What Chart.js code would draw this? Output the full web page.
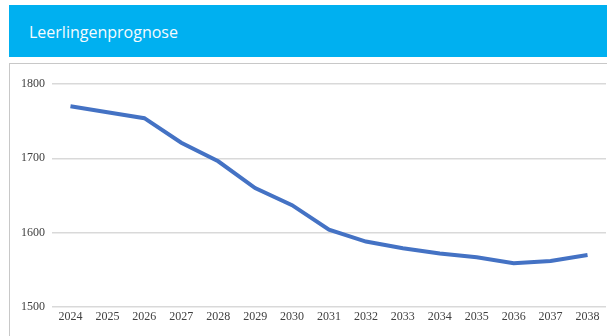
<!DOCTYPE html>
<html>
<head>
<meta charset="utf-8">
<script src="https://cdn.jsdelivr.net/npm/chart.js@4"></script>
<style>
  html, body { margin: 0; padding: 0; background: #ffffff; width: 607px; height: 336px; overflow: hidden; }
  #header {
    position: absolute; left: 9px; top: 5px; width: 598px; height: 52px;
    background: #00b0f0; color: #f4fbfe;
    font-family: "Open Sans", sans-serif; font-size: 16px;
    line-height: 54px; padding-left: 20px; box-sizing: border-box;
  }
  #frame {
    position: absolute; left: 9px; top: 63px; width: 620px; height: 300px;
    border: 1px solid #c8c8c8; box-sizing: border-box;
  }
  #wrap { position: absolute; left: 0; top: 0; width: 607px; height: 336px; }
</style>
</head>
<body>
<div id="frame"></div>
<div id="wrap"><canvas id="chart"></canvas></div>
<div id="header">Leerlingenprognose</div>
<script>
// Projected number of pupils per school year
const years = ['2024','2025','2026','2027','2028','2029','2030','2031','2032','2033','2034','2035','2036','2037','2038'];
const pupils = [1770, 1762, 1754, 1721, 1696, 1660, 1637, 1604, 1588, 1579, 1572, 1567, 1559, 1562, 1570];
const yTicks = [1500, 1600, 1700, 1800];

const tickFont = { family: '"Liberation Serif", "Times New Roman", serif', size: 12 };

new Chart(document.getElementById('chart'), {
  type: 'line',
  data: {
    labels: years,
    datasets: [{
      data: pupils,
      borderColor: '#4472c4',
      borderWidth: 4,
      tension: 0,
      pointRadius: 0,
      fill: false
    }]
  },
  options: {
    responsive: true,
    maintainAspectRatio: false,
    animation: false,
    layout: { padding: { left: 0, top: 84, right: 1, bottom: 0 } },
    plugins: { legend: { display: false }, tooltip: { enabled: false } },
    scales: {
      x: {
        offset: true,
        grid: { display: false, drawTicks: false },
        border: { display: false },
        ticks: { font: tickFont, color: '#404040', padding: 3, maxRotation: 0, autoSkip: false },
        afterFit: s => { s.height = 29; }
      },
      y: {
        min: 1500,
        max: 1800,
        afterBuildTicks: s => { s.ticks = yTicks.map(v => ({ value: v })); },
        grid: { color: '#d9d9d9', lineWidth: 1.5, drawTicks: false },
        border: { display: false },
        ticks: { font: tickFont, color: '#404040', padding: 7, callback: v => String(v) },
        afterFit: s => { s.width = 52; }
      }
    }
  }
});
</script>
</body>
</html>
